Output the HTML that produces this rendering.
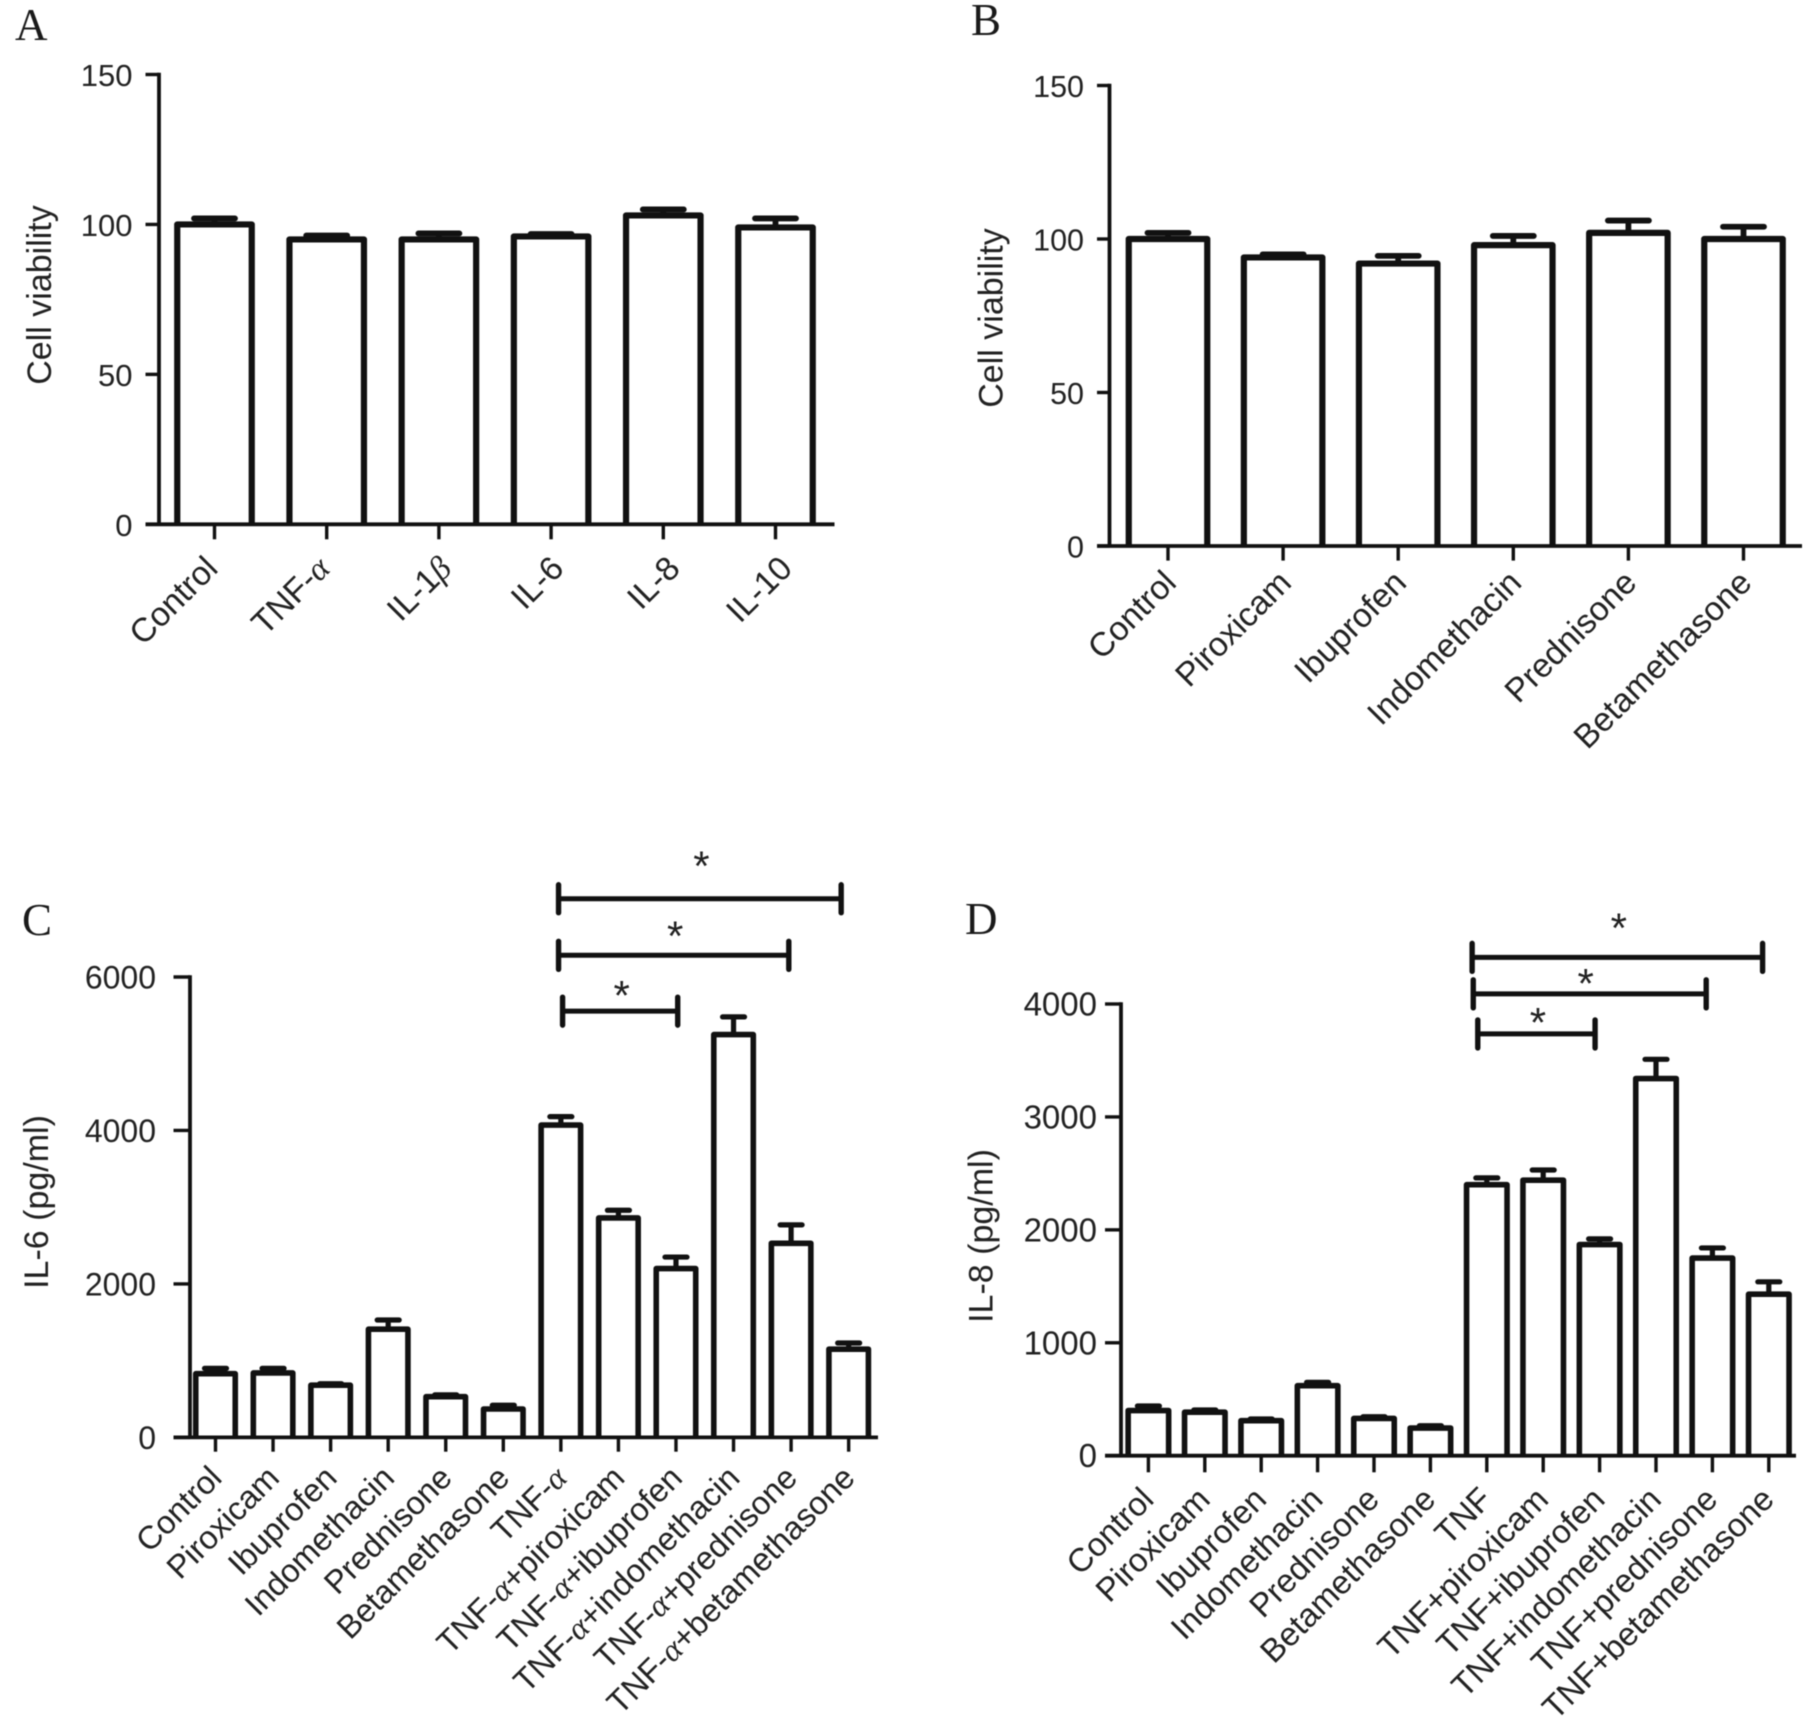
<!DOCTYPE html>
<html lang="en">
<head>
<meta charset="utf-8">
<title>Cell viability and cytokine bar charts</title>
<style>
html,body{margin:0;padding:0;background:#fff;width:1816px;height:1731px;overflow:hidden}
svg{display:block;filter:blur(0.5px)}
text{font-family:"Liberation Sans",Arial,sans-serif;fill:#222}
.letter{font-family:"Liberation Serif",serif;font-size:45px;fill:#1a1a1a}
.ylab{font-size:34px}
.star{font-size:42px}
.greek{font-family:"Liberation Serif",serif;font-style:italic}
</style>
</head>
<body>
<svg id="figure" xmlns="http://www.w3.org/2000/svg" width="1816" height="1731" viewBox="0 0 1816 1731">
  <rect width="1816" height="1731" fill="#fff"/>
  <text class="letter" x="15" y="40">A</text>
  <text class="letter" x="971" y="35">B</text>
  <text class="letter" x="22" y="935">C</text>
  <text class="letter" x="965" y="934">D</text>
  <text class="ylab" text-anchor="middle" transform="translate(51 295) rotate(-90)">Cell viability</text>
  <text class="ylab" text-anchor="middle" transform="translate(1002.5 318) rotate(-90)">Cell viability</text>
  <text class="ylab" text-anchor="middle" transform="translate(48 1202) rotate(-90)">IL-6 (pg/ml)</text>
  <text class="ylab" text-anchor="middle" transform="translate(992.5 1236) rotate(-90)">IL-8 (pg/ml)</text>
</svg>
<script>
// Panel A
const categoriesA = ['Control', 'TNF-α', 'IL-1β', 'IL-6', 'IL-8', 'IL-10'];
const valuesA = [100, 95, 95, 96, 103, 99];
const errorsA = [102, 96.3, 97, 96.8, 105, 102];
const ticksA = [0, 50, 100, 150];

// Panel B
const categoriesB = ['Control', 'Piroxicam', 'Ibuprofen', 'Indomethacin', 'Prednisone', 'Betamethasone'];
const valuesB = [100, 94, 92, 98, 102, 100];
const errorsB = [102, 95, 94.5, 101, 106, 104];
const ticksB = [0, 50, 100, 150];

// Panel C
const categoriesC = ['Control', 'Piroxicam', 'Ibuprofen', 'Indomethacin', 'Prednisone', 'Betamethasone', 'TNF-α', 'TNF-α+piroxicam', 'TNF-α+ibuprofen', 'TNF-α+indomethacin', 'TNF-α+prednisone', 'TNF-α+betamethasone'];
const valuesC = [830, 840, 680, 1410, 530, 370, 4070, 2860, 2200, 5250, 2530, 1150];
const errorsC = [900, 900, 700, 1530, 555, 420, 4180, 2960, 2350, 5480, 2770, 1230];
const ticksC = [0, 2000, 4000, 6000];
const bracketFromC = [5.96, 5.96, 6.03];
const bracketToC = [10.87, 9.96, 8.03];
const bracketLevelC = [7020, 6283, 5555];
const starLevelC = [7558, 6648, 5870];

// Panel D
const categoriesD = ['Control', 'Piroxicam', 'Ibuprofen', 'Indomethacin', 'Prednisone', 'Betamethasone', 'TNF', 'TNF+piroxicam', 'TNF+ibuprofen', 'TNF+indomethacin', 'TNF+prednisone', 'TNF+betamethasone'];
const valuesD = [400, 385, 310, 620, 330, 245, 2400, 2440, 1870, 3340, 1750, 1430];
const errorsD = [440, 405, 325, 650, 345, 265, 2460, 2530, 1920, 3510, 1840, 1540];
const ticksD = [0, 1000, 2000, 3000, 4000];
const bracketFromD = [5.74, 5.76, 5.84];
const bracketToD = [10.89, 9.89, 7.92];
const bracketLevelD = [4413, 4090, 3735];
const starLevelD = [4749, 4256, 3912];

const NS = 'http://www.w3.org/2000/svg';
const svg = document.getElementById('figure');

function make(tag, attrs, parent) {
  const el = document.createElementNS(NS, tag);
  for (const k in attrs) el.setAttribute(k, attrs[k]);
  parent.appendChild(el);
  return el;
}

function drawLine(parent, name, x1, y1, x2, y2, width, cap) {
  const el = make('line', { x1: x1, y1: y1, x2: x2, y2: y2, stroke: '#111', 'stroke-width': width, 'stroke-linecap': cap || 'butt' }, parent);
  
  
  return el;
}

function drawPanel(p) {
  const g = make('g', {}, svg);
  
  
  const sx = i => p.x0 + i * p.dx;
  const sy = v => p.y0 - (v / p.yMax) * (p.y0 - p.yTop);

  // error bars then bars
  p.values.forEach((v, i) => {
    const x = sx(i);
    drawLine(g, 'error-stem-' + p.id + '-' + i, x, sy(v), x, sy(p.errors[i]), p.errW);
    drawLine(g, 'error-cap-' + p.id + '-' + i, x - p.capW / 2, sy(p.errors[i]), x + p.capW / 2, sy(p.errors[i]), p.errW, 'round');
    const bar = make('path', {
      d: 'M' + (x - p.barW / 2) + ' ' + p.y0 + 'V' + sy(v) + 'H' + (x + p.barW / 2) + 'V' + p.y0,
      fill: '#fff', stroke: '#111', 'stroke-width': p.barStroke, 'stroke-linejoin': 'round'
    }, g);
    
    
  });

  // axes
  drawLine(g, 'y-axis-' + p.id, p.axisX, sy(p.yMax) - 1.7, p.axisX, p.y0, 3.8);
  drawLine(g, 'x-axis-' + p.id, p.xStart, p.y0, p.xEnd, p.y0, 3.8);

  // y ticks
  p.ticks.forEach(t => {
    drawLine(g, 'y-tick-' + p.id + '-' + t, p.xStart, sy(t), p.axisX, sy(t), 3.4);
    const lab = make('text', { x: p.xStart - p.tickGap, y: sy(t) + 11.5, 'text-anchor': 'end', 'font-size': p.tickSize }, g);
    
    
    lab.textContent = t;
  });

  // x ticks and rotated labels
  p.categories.forEach((c, i) => {
    const x = sx(i);
    drawLine(g, 'x-tick-' + p.id + '-' + i, x, p.y0, x, p.tickEnd, 3.4);
    const shift = p.labelNudge ? p.labelNudge(c) : 0;
    const lab = make('text', {
      'font-size': p.labSize, 'text-anchor': 'end',
      transform: 'translate(' + (x + p.labDx + shift) + ' ' + (p.tickEnd + p.labDy) + ') rotate(-45)'
    }, g);
    
    
    c.split(/([αβ])/).forEach(part => {
      if (!part) return;
      const s = make('tspan', {}, lab);
      if (part === 'α' || part === 'β') s.setAttribute('class', 'greek');
      s.textContent = part;
    });
  });

  // significance brackets
  (p.bracketLevel || []).forEach((lvl, i) => {
    const x1 = sx(p.bracketFrom[i]);
    const x2 = sx(p.bracketTo[i]);
    const y = sy(lvl);
    drawLine(g, 'bracket-' + p.id + '-' + i, x1, y, x2, y, 5);
    drawLine(g, 'bracket-start-' + p.id + '-' + i, x1, y - 14, x1, y + 14, 5.4, 'round');
    drawLine(g, 'bracket-end-' + p.id + '-' + i, x2, y - 14, x2, y + 14, 5.4, 'round');
    const star = make('text', { x: (x1 + x2) / 2 + p.starDx[i], y: sy(p.starLevel[i]) + 23, 'text-anchor': 'middle', class: 'star' }, g);
    
    
    star.textContent = '*';
  });
}

drawPanel({ id: 'a', categories: categoriesA, values: valuesA, errors: errorsA, ticks: ticksA, yMax: 150,
  x0: 214.5, dx: 112.2, y0: 524.3, yTop: 74.5, axisX: 159, xStart: 145.5, xEnd: 834.5, tickEnd: 539.3,
  barW: 74.5, barStroke: 6.2, capW: 41, errW: 5.8, labDx: 5, labDy: 31, tickGap: 13, tickSize: 31, labSize: 33.5,
  labelNudge: c => (c.startsWith('IL-') ? (c === 'IL-8' || c === 'IL-10' ? 13.5 : 9.5) : 0) });
drawPanel({ id: 'b', categories: categoriesB, values: valuesB, errors: errorsB, ticks: ticksB, yMax: 150,
  x0: 1168, dx: 115.1, y0: 546, yTop: 85.5, axisX: 1109.5, xStart: 1097, xEnd: 1802, tickEnd: 560.6,
  barW: 78.5, barStroke: 6.2, capW: 41, errW: 5.8, labDx: 10, labDy: 24, tickGap: 13, tickSize: 30.5, labSize: 33.5 });
drawPanel({ id: 'c', categories: categoriesC, values: valuesC, errors: errorsC, ticks: ticksC, yMax: 6000,
  x0: 215.5, dx: 57.56, y0: 1437.4, yTop: 977, axisX: 190, xStart: 173.5, xEnd: 878, tickEnd: 1451.7,
  barW: 39.5, barStroke: 5.6, capW: 22, errW: 5.2, labDx: 8, labDy: 28, tickGap: 17.5, tickSize: 32, labSize: 32.5,
  bracketFrom: bracketFromC, bracketTo: bracketToC, bracketLevel: bracketLevelC, starLevel: starLevelC, starDx: [1.5, 1.5, 1.5] });
drawPanel({ id: 'd', categories: categoriesD, values: valuesD, errors: errorsD, ticks: ticksD, yMax: 4000,
  x0: 1148.4, dx: 56.4, y0: 1455.7, yTop: 1004, axisX: 1121, xStart: 1105, xEnd: 1796, tickEnd: 1472.3,
  barW: 40.5, barStroke: 5.6, capW: 22, errW: 5.2, labDx: 7, labDy: 29, tickGap: 8, tickSize: 33, labSize: 33,
  bracketFrom: bracketFromD, bracketTo: bracketToD, bracketLevel: bracketLevelD, starLevel: starLevelD, starDx: [1.5, -4, 1.5] });
</script>
</body>
</html>
